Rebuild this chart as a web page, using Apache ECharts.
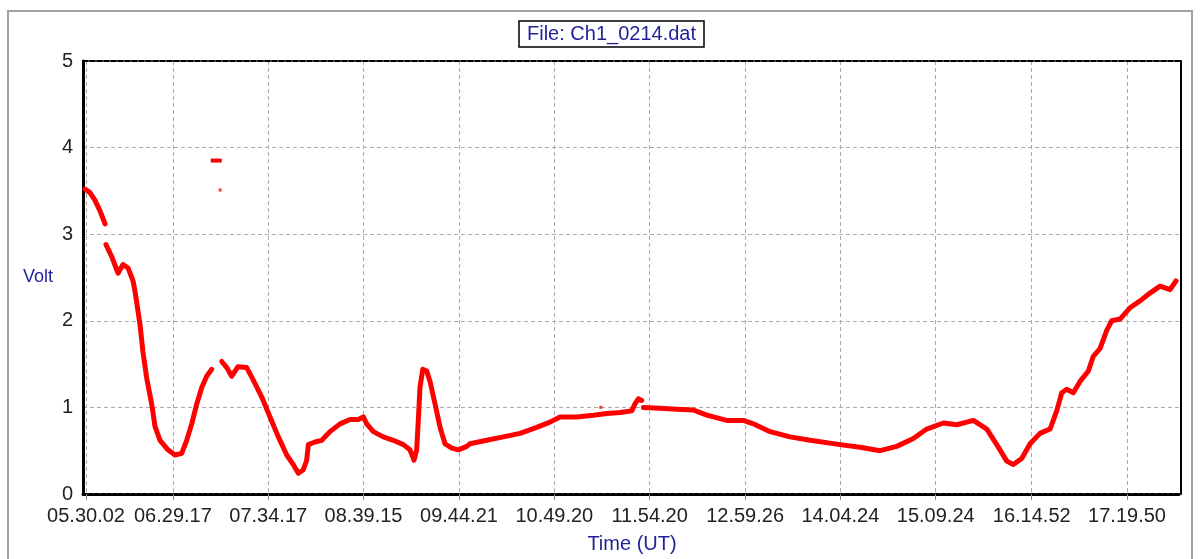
<!DOCTYPE html>
<html>
<head>
<meta charset="utf-8">
<script src="https://cdn.jsdelivr.net/npm/echarts@6/dist/echarts.min.js"></script>
<style>
html,body{margin:0;padding:0;background:#fff;}
#chart{width:1200px;height:559px;}
</style>
</head>
<body>
<div id="chart"></div>
<script>
// Tick labels (UT)
const timeLabels = ['05.30.02','06.29.17','07.34.17','08.39.15','09.44.21','10.49.20','11.54.20','12.59.26','14.04.24','15.09.24','16.14.52','17.19.50'];
const voltTicks = [0,1,2,3,4,5];

// Main trace: minutes elapsed since 05.30.02 and voltage; null = data gap
const traceMin = [
  -0.71,2.71,6.13,9.55,12.97,13.23,
  13.62,17.55,21.81,25.23,28.65,32.07,33.43,34.59,36.85,38.85,41.36,44.78,47.04,50.46,55.88,60.66,65.24,68.66,72.08,75.50,78.92,82.28,85.70,89.05,
  92.54,95.96,99.38,103.63,109.57,113.90,119.83,125.45,131.13,136.87,141.32,144.74,148.16,150.48,151.58,156.16,160.74,166.36,173.20,180.04,185.65,189.07,191.40,195.91,202.69,209.53,216.37,220.89,223.66,225.47,226.57,227.73,229.60,232.31,234.57,237.99,241.41,244.76,249.34,253.86,259.60,261.86,273.22,284.51,295.93,307.29,316.39,323.16,334.58,345.88,355.04,364.14,372.08,374.34,376.60,378.92,379.44,
  380.02,391.38,402.80,414.09,423.25,432.29,436.87,448.16,455.00,466.42,480.04,493.65,514.11,527.79,541.41,552.76,564.12,573.22,584.58,593.68,600.52,605.03,614.19,620.97,627.81,632.26,638.01,643.69,650.46,657.30,661.88,665.30,668.66,673.18,677.76,683.44,686.79,691.37,695.96,699.31,704.99,711.83,718.67,725.51,732.29,739.13,743.19
];
const traceVolt = [
  3.52,3.48,3.39,3.27,3.12,null,
  2.88,2.74,2.55,2.65,2.61,2.46,2.34,2.21,1.95,1.64,1.34,1.04,0.78,0.62,0.51,0.45,0.47,0.62,0.81,1.04,1.23,1.36,1.44,null,
  1.53,1.46,1.36,1.47,1.46,1.32,1.12,0.89,0.66,0.45,0.34,0.24,0.28,0.39,0.57,0.60,0.62,0.72,0.81,0.86,0.86,0.89,0.81,0.72,0.66,0.62,0.57,0.51,0.39,0.51,0.85,1.23,1.44,1.42,1.30,1.04,0.77,0.58,0.53,0.51,0.55,0.58,0.62,0.66,0.70,0.77,0.83,0.89,0.89,0.91,0.93,0.94,0.96,1.04,1.10,1.08,null,
  1.00,0.99,0.98,0.97,0.91,0.87,0.85,0.85,0.81,0.72,0.66,0.62,0.57,0.54,0.50,0.55,0.64,0.75,0.82,0.80,0.83,0.85,0.75,0.57,0.38,0.34,0.41,0.58,0.70,0.75,0.96,1.17,1.21,1.17,1.30,1.42,1.59,1.68,1.89,2.00,2.02,2.15,2.23,2.32,2.40,2.36,2.46
];

// Isolated readings
const outlierBarMin = [85.05, 92.54];
const outlierBarVolt = [3.85, 3.85];
const outlierDotMin = [91.44, 350.98];
const outlierDotVolt = [3.51, 1.00];

const zip = (a, b) => a.map((v, i) => [v, b[i]]);
const toSec = s => { const p = s.split('.').map(Number); return p[0]*3600 + p[1]*60 + p[2]; };
const t0 = toSec(timeLabels[0]);
const labelMin = timeLabels.map(s => (toSec(s) - t0) / 60);

const font = 'Liberation Sans, Arial, sans-serif';
const blue = '#1f1f9a';
const red = '#ff0000';

const chart = echarts.init(document.getElementById('chart'), null, {renderer: 'canvas'});
chart.setOption({
  animation: false,
  backgroundColor: '#ffffff',
  title: {
    text: 'File: Ch1_0214.dat',
    left: 519, top: 21,
    padding: [3, 8, 3, 8],
    borderColor: '#000', borderWidth: 1.5,
    textStyle: {fontFamily: font, fontSize: 20, fontWeight: 'normal', color: blue}
  },
  graphic: [{
    type: 'rect', silent: true, z: -10,
    shape: {x: 8, y: 11, width: 1184, height: 560},
    style: {fill: 'none', stroke: '#a0a0a0', lineWidth: 2}
  }],
  grid: {left: 83, right: 19, top: 61, bottom: 58, containLabel: false},
  xAxis: [{
    type: 'value', min: -2.05, max: 746.6, position: 'bottom',
    name: 'Time (UT)', nameLocation: 'middle', nameGap: 40,
    nameTextStyle: {fontFamily: font, fontSize: 20, color: blue},
    axisLine: {show: true, onZero: false, lineStyle: {color: '#000', width: 3, type: [4, 2]}},
    axisTick: {show: true, length: 6, customValues: labelMin, lineStyle: {color: '#888', width: 1}},
    axisLabel: {customValues: labelMin,
      formatter: v => { const i = labelMin.findIndex(m => Math.abs(m - v) < 0.01); return i >= 0 ? timeLabels[i] : ''; },
      fontFamily: font, fontSize: 20, color: '#222', margin: 12},
    splitLine: {show: true, lineStyle: {color: '#aaaaaa', width: 1, type: [4, 3]}}
  }, {
    type: 'value', min: -2.05, max: 746.6, position: 'top',
    axisLine: {show: true, onZero: false, lineStyle: {color: '#000', width: 2, type: [5, 2]}},
    axisTick: {show: false}, axisLabel: {show: false}, splitLine: {show: false}
  }],
  yAxis: [{
    type: 'value', min: 0, max: 5, interval: 1, position: 'left',
    name: 'Volt', nameLocation: 'middle', nameGap: 30, nameRotate: 0,
    nameTextStyle: {fontFamily: font, fontSize: 18, color: blue},
    axisLine: {show: true, onZero: false, lineStyle: {color: '#000', width: 3}},
    axisTick: {show: false},
    axisLabel: {fontFamily: font, fontSize: 20, color: '#222', margin: 10,
      formatter: v => voltTicks.includes(v) ? String(v) : ''},
    splitLine: {show: true, lineStyle: {color: '#aaaaaa', width: 1, type: [4, 3]}}
  }, {
    type: 'value', min: 0, max: 5, interval: 1, position: 'right',
    axisLine: {show: true, onZero: false, lineStyle: {color: '#000', width: 2}},
    axisTick: {show: false}, axisLabel: {show: false}, splitLine: {show: false}
  }],
  series: [{
    type: 'line', xAxisIndex: 0, yAxisIndex: 0,
    data: zip(traceMin, traceVolt),
    showSymbol: false, connectNulls: false,
    lineStyle: {color: red, width: 5, join: 'round', cap: 'round'}
  }, {
    type: 'line', xAxisIndex: 0, yAxisIndex: 0,
    data: zip(outlierBarMin, outlierBarVolt),
    showSymbol: false,
    lineStyle: {color: red, width: 4}
  }, {
    type: 'scatter', xAxisIndex: 0, yAxisIndex: 0,
    data: zip(outlierDotMin, outlierDotVolt),
    symbol: 'rect', symbolSize: 3,
    itemStyle: {color: red}
  }]
});
</script>
</body>
</html>
